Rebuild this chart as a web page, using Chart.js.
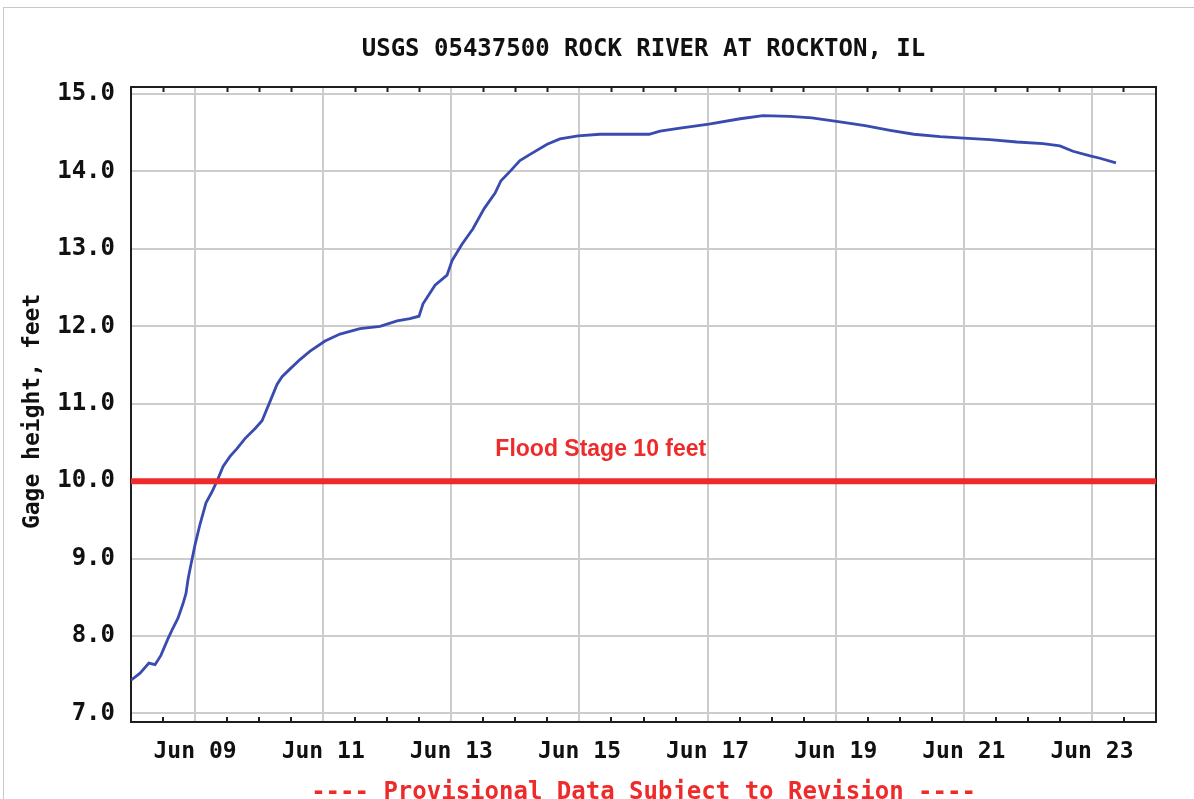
<!DOCTYPE html>
<html>
<head>
<meta charset="utf-8">
<script src="https://cdn.jsdelivr.net/npm/chart.js@4.4.0/dist/chart.umd.min.js"></script>
<style>
  html, body { margin: 0; padding: 0; background: #fff; }
  #wrap { position: relative; width: 1194px; height: 799px; overflow: hidden; }
  #edge { position: absolute; left: 3px; top: 7px; width: 1300px; height: 900px;
          border-top: 1px solid #c8c8c8; border-left: 1px solid #c8c8c8; }
  canvas { position: absolute; left: 0; top: 0; }
</style>
</head>
<body>
<div id="wrap"><div id="edge"></div><canvas id="gage-chart" width="1194" height="799"></canvas></div>
<script>
const TITLE = "USGS 05437500 ROCK RIVER AT ROCKTON, IL";
const Y_TITLE = "Gage height, feet ";
const FOOTER = "---- Provisional Data Subject to Revision ----";
const FLOOD_TEXT = "Flood Stage 10 feet";

// hours after Jun 08 00:00
const hours = [0, 3.4, 6.7, 9.0, 11.2, 13.9, 15.4, 17.6, 19.5, 20.6,
  21.4, 22.5, 24.0, 25.9, 28.1, 30.3, 32.2, 34.5, 37.1, 39.7,
  42.7, 46.5, 49.1, 52.1, 54.7, 56.6, 59.6, 63.3, 67.1, 72.7,
  78.3, 85.8, 93.3, 99.7, 104.5, 107.9, 109.4, 113.9, 118.4, 120.3,
  124.0, 128.1, 132.3, 136.4, 138.6, 142.0, 145.7, 149.5, 155.9, 160.7,
  167.5, 175.7, 183.2, 194.1, 198.2, 205.7, 216.5, 228.2, 236.8, 246.9,
  255.1, 265.6, 275.0, 284.4, 293.3, 303.1, 312.1, 321.8, 331.9, 341.7,
  348.0, 352.9, 359.3, 363.0, 369.0];
const gageFt = [7.43, 7.52, 7.65, 7.63, 7.75, 7.97, 8.08, 8.23, 8.42, 8.55,
  8.74, 8.93, 9.18, 9.45, 9.72, 9.86, 10.00, 10.19, 10.32, 10.42,
  10.55, 10.68, 10.78, 11.03, 11.25, 11.35, 11.45, 11.57, 11.68, 11.81,
  11.90, 11.97, 12.00, 12.07, 12.10, 12.13, 12.29, 12.53, 12.66, 12.85,
  13.06, 13.26, 13.52, 13.72, 13.88, 14.00, 14.14, 14.22, 14.35, 14.42,
  14.46, 14.48, 14.48, 14.48, 14.52, 14.56, 14.61, 14.68, 14.72, 14.71,
  14.69, 14.64, 14.59, 14.53, 14.48, 14.45, 14.43, 14.41, 14.38, 14.36,
  14.33, 14.26, 14.20, 14.17, 14.11];

const FLOOD_STAGE = 10;
const X_MIN = 0, X_MAX = 384;       // Jun 08 00:00 .. Jun 24 00:00
const Y_MIN = 6.89, Y_MAX = 15.09;
const FLOOD_LABEL_AT = [176, 10.41];

const BLUE = "#3a4bb0";
const RED = "#ee2a2a";
const GRID = "#cccccc";
const FRAME = "#1e1e1e";
const MONO = '"DejaVu Sans Mono", "Liberation Mono", monospace';

const isGridHour = (h) => h % 48 === 24;
const isEdge = (h) => h === X_MIN || h === X_MAX;

function dayLabel(h) {
  if (!isGridHour(h)) return "";
  const d = 8 + h / 24;
  return "Jun " + String(d).padStart(2, "0");
}

const floodLabel = {
  id: "floodLabel",
  afterDatasetsDraw(chart) {
    const { ctx, scales: { x, y } } = chart;
    ctx.save();
    ctx.font = 'bold 23px "Liberation Sans", Arial, sans-serif';
    ctx.fillStyle = RED;
    ctx.textAlign = "center";
    ctx.textBaseline = "middle";
    ctx.fillText(FLOOD_TEXT, x.getPixelForValue(FLOOD_LABEL_AT[0]), y.getPixelForValue(FLOOD_LABEL_AT[1]));
    ctx.restore();
  }
};

const tickColor = (c) => (isGridHour(c.tick.value) || isEdge(c.tick.value)) ? "rgba(0,0,0,0)" : FRAME;

const ctx = document.getElementById("gage-chart").getContext("2d");
const chart = new Chart(ctx, {
  type: "line",
  data: {
    datasets: [
      {
        label: "Flood stage",
        data: [{ x: X_MIN, y: FLOOD_STAGE }, { x: X_MAX, y: FLOOD_STAGE }],
        borderColor: RED,
        borderWidth: 6,
        pointRadius: 0,
        order: 0,
      },
      {
        label: "Gage height",
        data: hours.map((h, i) => ({ x: h, y: gageFt[i] })),
        borderColor: BLUE,
        borderWidth: 2.8,
        pointRadius: 0,
        tension: 0,
        order: 1,
      },
    ],
  },
  options: {
    responsive: false,
    animation: false,
    devicePixelRatio: 1,
    layout: { padding: 0 },
    plugins: {
      legend: { display: false },
      tooltip: { enabled: false },
      title: {
        display: true,
        text: TITLE,
        fullSize: false,
        color: "#111",
        font: { family: MONO, size: 24, weight: "bold", lineHeight: 1.2 },
        padding: { top: 35.6, bottom: 22.6 },
      },
    },
    scales: {
      x: {
        type: "linear",
        position: "bottom",
        min: X_MIN,
        max: X_MAX,
        afterBuildTicks: (scale) => {
          scale.ticks = [];
          for (let h = X_MIN; h <= X_MAX; h += 12) scale.ticks.push({ value: h });
        },
        ticks: {
          autoSkip: false,
          maxRotation: 0,
          padding: 21,
          color: "#111",
          font: { family: MONO, size: 23, weight: "bold" },
          callback: (v) => dayLabel(v),
        },
        grid: {
          color: (c) => isGridHour(c.tick.value) ? GRID : "rgba(0,0,0,0)",
          lineWidth: 2,
          tickLength: -5,
          tickColor: tickColor,
          tickWidth: 2,
        },
        border: { display: true, color: FRAME, width: 2 },
        title: {
          display: true,
          text: FOOTER,
          color: RED,
          font: { family: MONO, size: 24, weight: "bold", lineHeight: 1.2 },
          padding: { top: 0, bottom: -8 },
        },
        afterFit: (scale) => { scale.height = 77; },
      },
      x2: {
        type: "linear",
        position: "top",
        min: X_MIN,
        max: X_MAX,
        afterBuildTicks: (scale) => {
          scale.ticks = [];
          for (let h = X_MIN; h <= X_MAX; h += 12) scale.ticks.push({ value: h });
        },
        ticks: { display: false },
        grid: {
          drawOnChartArea: false,
          tickLength: -5,
          tickColor: tickColor,
          tickWidth: 2,
        },
        border: { display: true, color: FRAME, width: 2 },
        afterFit: (scale) => { scale.height = 0; },
      },
      y: {
        type: "linear",
        position: "left",
        min: Y_MIN,
        max: Y_MAX,
        ticks: {
          stepSize: 1,
          includeBounds: false,
          padding: 16,
          color: "#111",
          font: { family: MONO, size: 24, weight: "bold" },
          callback: (v) => v.toFixed(1),
        },
        grid: { color: GRID, lineWidth: 2, drawTicks: false },
        border: { display: true, color: FRAME, width: 2 },
        title: {
          display: true,
          text: Y_TITLE,
          color: "#111",
          font: { family: MONO, size: 23, weight: "bold", lineHeight: 1.2 },
          padding: { top: 19, bottom: 0 },
        },
        afterFit: (scale) => { scale.width = 131; },
      },
      y2: {
        type: "linear",
        position: "right",
        min: Y_MIN,
        max: Y_MAX,
        ticks: { display: false },
        grid: { drawOnChartArea: false, drawTicks: false },
        border: { display: true, color: FRAME, width: 2 },
        afterFit: (scale) => { scale.width = 38; },
      },
    },
  },
  plugins: [floodLabel],
});
</script>
</body>
</html>
